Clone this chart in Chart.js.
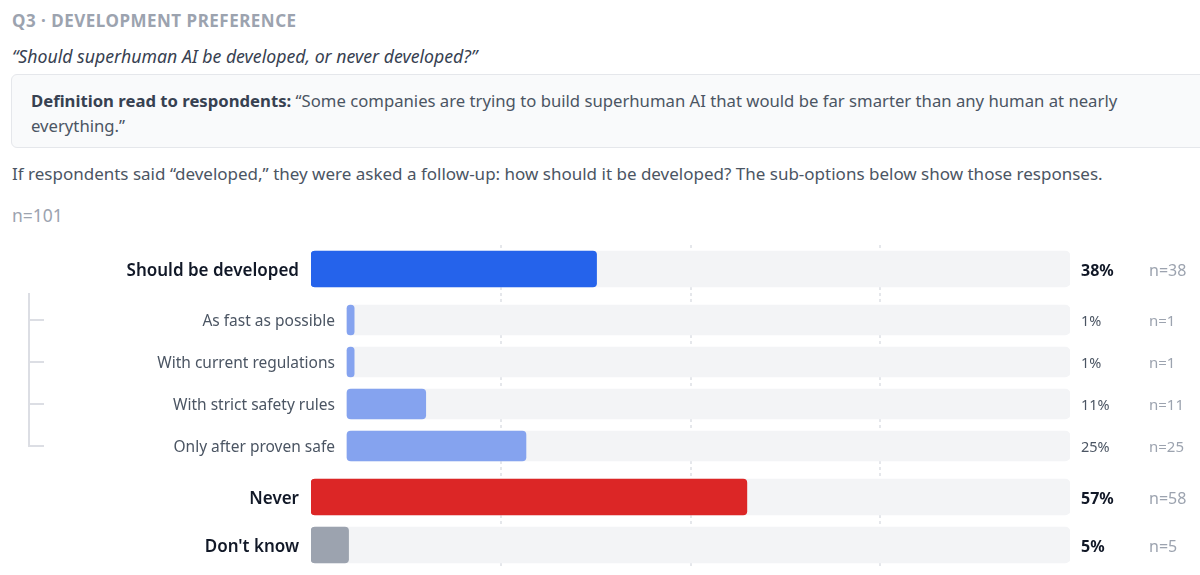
<!DOCTYPE html>
<html>
<head>
<meta charset="utf-8">
<script src="https://cdn.jsdelivr.net/npm/chart.js@4.4.1/dist/chart.umd.min.js"></script>
<style>
    html, body { margin: 0; padding: 0; background: #fff; overflow: hidden; }
    body { width: 1200px; height: 575px; position: relative; font-family: "Noto Sans", "Open Sans", sans-serif; }
    .abs { position: absolute; white-space: nowrap; }
    #eyebrow { left: 12px; top: 9px; line-height: 24px; font-size: 17px; font-weight: 700; color: #9ca3af; letter-spacing: 0.5px; }
    #question { left: 12px; top: 42px; line-height: 28px; font-size: 17.7px; font-style: italic; color: #374151; }
    #definition { left: 11px; top: 74px; width: 1250px; padding: 13px 18px 9px 19px; line-height: 25px; font-size: 16.7px; color: #4b5563;
        background: #f9fafb; border: 1px solid #e5e7eb; border-radius: 6px; white-space: normal; }
    #definition b { color: #374151; font-weight: 700; }
    #followup { left: 12px; top: 162px; line-height: 24px; font-size: 17px; color: #4b5563; }
    #total { left: 12px; top: 203px; line-height: 24px; font-size: 17.5px; color: #9ca3af; }
    #chart-box { position: absolute; left: 0; top: 240px; width: 1200px; height: 335px; }
</style>
</head>
<body>
<div class="abs" id="eyebrow">Q3 · DEVELOPMENT PREFERENCE</div>
<div class="abs" id="question">“Should superhuman AI be developed, or never developed?”</div>
<div class="abs" id="definition"><b>Definition read to respondents:</b> “Some companies are trying to build superhuman AI that would be far smarter than any human at nearly<br>everything.”</div>
<div class="abs" id="followup">If respondents said “developed,” they were asked a follow-up: how should it be developed? The sub-options below show those responses.</div>
<div class="abs" id="total">n=101</div>
<div id="chart-box"><canvas id="prefs" width="1200" height="335"></canvas></div>

<script>
const TOTAL_N = 101;

// Top-level answers (Should be developed, Never, Don't know)
const topLabels = ["Should be developed", "Never", "Don't know"];
const topCounts = [38, 58, 5];
const topPct = [38, 57, 5];

// Follow-up answers for "Should be developed"
const subLabels = ["As fast as possible", "With current regulations", "With strict safety rules", "Only after proven safe"];
const subCounts = [1, 1, 11, 25];
const subPct = [1, 1, 11, 25];

const gridTicks = [25, 50, 75];

// layout bits
const TOP_SLOT = 48, SUB_SLOT = 42, GROUP_PAD = 6;
const SUB_INDENT = 36 / 759 * 100;
const TEXT_NUDGE = 2;
const topColors = ["#2563eb", "#dc2626", "#9ca3af"];
const SUB_COLOR = "#85a3ef";
const TRACK = "#f3f4f6";
const FONT = '"Noto Sans", "Open Sans", sans-serif';

window.addEventListener("load", () => {
    // row centres, in the y scale's units
    let cursor = 0;
    const topY = [];
    const subY = [];
    topY.push(cursor + TOP_SLOT / 2); cursor += TOP_SLOT;
    const groupTop = cursor;
    cursor += GROUP_PAD;
    subLabels.forEach(() => { subY.push(cursor + SUB_SLOT / 2); cursor += SUB_SLOT; });
    cursor += GROUP_PAD;
    topY.push(cursor + TOP_SLOT / 2); cursor += TOP_SLOT;
    topY.push(cursor + TOP_SLOT / 2); cursor += TOP_SLOT;
    const yMax = cursor;

    const subScale = (100 - SUB_INDENT) / 100;

    // Labels, tree lines -------------------------------
    const labelsPlugin = {
        id: "rowLabels",
        afterDatasetsDraw(chart) {
            const ctx = chart.ctx;
            const area = chart.chartArea;
            const ys = chart.scales.y;
            const xs = chart.scales.x;
            const subLeft = xs.getPixelForValue(SUB_INDENT);

            ctx.save();
            // tree connector
            ctx.strokeStyle = "#dcdee4";
            ctx.lineWidth = 2;
            ctx.beginPath();
            ctx.moveTo(29, ys.getPixelForValue(groupTop));
            ctx.lineTo(29, ys.getPixelForValue(subY[subY.length - 1]) + 1);
            subY.forEach(v => {
                const py = ys.getPixelForValue(v);
                ctx.moveTo(29, py);
                ctx.lineTo(44, py);
            });
            ctx.stroke();

            ctx.textBaseline = "middle";
            topLabels.forEach((lab, i) => {
                const py = ys.getPixelForValue(topY[i]) + TEXT_NUDGE;
                ctx.textAlign = "right";
                ctx.fillStyle = "#111827";
                ctx.font = "600 17px " + FONT;
                ctx.fillText(lab, area.left - 12, py);
                ctx.textAlign = "left";
                ctx.font = "700 16px " + FONT;
                ctx.fillText(topPct[i] + "%", area.right + 11, py);
                ctx.fillStyle = "#9ca3af";
                ctx.font = "400 16px " + FONT;
                ctx.fillText("n=" + topCounts[i], area.right + 79, py);
            });
            subLabels.forEach((lab, i) => {
                const py = ys.getPixelForValue(subY[i]) + TEXT_NUDGE;
                ctx.textAlign = "right";
                ctx.fillStyle = "#4b5563";
                ctx.font = "400 15.5px " + FONT;
                ctx.fillText(lab, subLeft - 12, py);
                ctx.textAlign = "left";
                ctx.font = "400 14.5px " + FONT;
                ctx.fillText(subPct[i] + "%", area.right + 11, py);
                ctx.fillStyle = "#9ca3af";
                ctx.font = "400 15px " + FONT;
                ctx.fillText("n=" + subCounts[i], area.right + 79, py);
            });
            ctx.restore();
        }
    };

    new Chart($("prefs"), {
        type: "bar",
        data: {
            datasets: [
                {
                    data: topY.map((y, i) => ({ x: [0, topCounts[i] / TOTAL_N * 100], y: y })),
                    backgroundColor: topColors,
                    barThickness: 36,
                    borderRadius: 4,
                    borderSkipped: false,
                    order: 0
                },
                {
                    data: subY.map((y, i) => ({ x: [SUB_INDENT, SUB_INDENT + subCounts[i] / TOTAL_N * 100 * subScale], y: y })),
                    backgroundColor: SUB_COLOR,
                    barThickness: 30,
                    borderRadius: 4,
                    borderSkipped: false,
                    order: 0
                },
                {
                    data: topY.map(y => ({ x: [0, 100], y: y })),
                    backgroundColor: TRACK,
                    barThickness: 36,
                    borderRadius: 5,
                    borderSkipped: false,
                    order: 1
                },
                {
                    data: subY.map(y => ({ x: [SUB_INDENT, 100], y: y })),
                    backgroundColor: TRACK,
                    barThickness: 30,
                    borderRadius: 5,
                    borderSkipped: false,
                    order: 1
                }
            ]
        },
        options: {
            indexAxis: "y",
            responsive: false,
            animation: false,
            grouped: false,
            layout: { padding: { left: 311, right: 130, top: 5, bottom: 6 } },
            plugins: { legend: { display: false }, tooltip: { enabled: false } },
            scales: {
                x: {
                    type: "linear",
                    min: 0,
                    max: 100,
                    position: "top",
                    afterBuildTicks: (scale) => { scale.ticks = gridTicks.map(v => ({ value: v })); },
                    ticks: { display: false },
                    border: { display: false, dash: [3, 3] },
                    grid: { color: "#e5e7eb", lineWidth: 2, drawTicks: false }
                },
                y: {
                    type: "linear",
                    min: 0,
                    max: yMax,
                    offset: false,
                    reverse: true,
                    display: false
                }
            }
        },
        plugins: [labelsPlugin]
    });
});

function $(id) { return document.getElementById(id); }
</script>
</body>
</html>
